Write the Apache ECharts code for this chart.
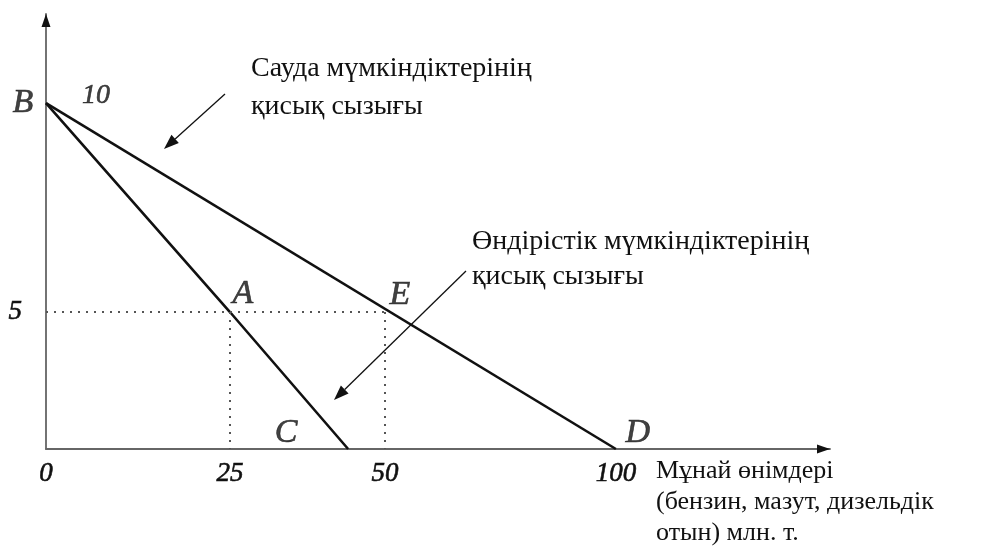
<!DOCTYPE html>
<html>
<head>
<meta charset="utf-8">
<script src="https://cdn.jsdelivr.net/npm/echarts@6/dist/echarts.min.js"></script>
<style>
  html, body { margin: 0; padding: 0; background: #ffffff; }
  #chart { width: 1007px; height: 560px; }
</style>
</head>
<body>
<div id="chart"></div>
<script>
// Key points of the diagram: [oil products, mln t ; other good]
const pointB = [0, 10];
const pointA = [25, 5];
const pointE = [50, 5];
const pointC = [45, 0];
const pointD = [100, 0];

// Tick labels on both axes
const xTickValues = [0, 25, 50, 100];
const yTickValues = [5];

// Captions
const tradeCaption = 'Сауда мүмкіндіктерінің\nқисық сызығы';
const productionCaption = 'Өндірістік мүмкіндіктерінің\nқисық сызығы';
const xAxisCaption = 'Мұнай өнімдері\n(бензин, мазут, дизельдік\nотын) млн. т.';

const SERIF = '"Liberation Serif", "Times New Roman", "DejaVu Serif", serif';
const INK = '#111111';
const AXIS = '#6a6a6a';

const chart = echarts.init(document.getElementById('chart'), null, { renderer: 'canvas' });

// The diagram is a sketch, not drawn to scale: compress parts of the axes
const xBreaks = [
  { start: 30, end: 45, gap: 11.06 },
  { start: 60, end: 90, gap: 11.39 }
];
const yBreaks = [
  { start: 1, end: 4, gap: 1.277 }
];
const X_MAX = 129.1;
const Y_MAX = 12.13;

function arrow(x1, y1, x2, y2, len, half) {
  const dx = x2 - x1, dy = y2 - y1;
  const d = Math.sqrt(dx * dx + dy * dy);
  const ux = dx / d, uy = dy / d;
  const bx = x2 - ux * len, by = y2 - uy * len;
  return [
    { type: 'line', shape: { x1: x1, y1: y1, x2: bx, y2: by }, style: { stroke: INK, lineWidth: 1.3 } },
    { type: 'polygon', shape: { points: [[x2, y2], [bx - uy * half, by + ux * half], [bx + uy * half, by - ux * half]] }, style: { fill: INK } }
  ];
}

// italic serif labels, slightly thickened
const italic = (size) => ({
  fontFamily: SERIF, fontStyle: 'italic', fontSize: size, color: INK,
  textBorderColor: INK, textBorderWidth: 0.6
});

const letterLabel = (dx, dy) => Object.assign(
  { show: true, position: 'inside', offset: [dx, dy] }, italic(34)
);

// continuous axis line (gray) and its black arrow head, laid over the broken value axes
const lineAxis = (position) => ({
  type: 'value', min: 0, max: 1, position: position,
  axisLine: { show: true, onZero: false, lineStyle: { color: AXIS, width: 1.8 } },
  axisTick: { show: false }, axisLabel: { show: false }, splitLine: { show: false }
});
const headAxis = (position) => ({
  type: 'value', min: 0, max: 1, position: position,
  axisLine: {
    show: true, onZero: false,
    lineStyle: { color: INK, width: 0.1 },
    symbol: ['none', 'triangle'], symbolSize: [9, 13], symbolOffset: [0, -6.5]
  },
  axisTick: { show: false }, axisLabel: { show: false }, splitLine: { show: false }
});

const option = {
  animation: false,
  backgroundColor: '#ffffff',
  grid: { left: 46, right: 177, top: 14, bottom: 111 },
  xAxis: [
    {
      type: 'value', min: 0, max: X_MAX,
      breaks: xBreaks,
      breakArea: { show: false },
      splitLine: { show: false },
      axisTick: { show: false },
      axisLine: { show: false },
      axisLabel: Object.assign({ customValues: xTickValues, margin: 11 }, italic(27))
    },
    lineAxis('bottom'),
    headAxis('bottom')
  ],
  yAxis: [
    {
      type: 'value', min: 0, max: Y_MAX,
      breaks: yBreaks,
      breakArea: { show: false },
      splitLine: { show: false },
      axisTick: { show: false },
      axisLine: { show: false },
      axisLabel: Object.assign({ customValues: yTickValues, margin: 24 }, italic(27))
    },
    lineAxis('left'),
    headAxis('left')
  ],
  series: [
    {
      // trade possibilities line B–D
      type: 'line', data: [pointB, pointD], symbol: 'none',
      lineStyle: { color: INK, width: 2.6 }
    },
    {
      // production possibilities line B–A–C
      type: 'line', data: [pointB, pointA, pointC], symbol: 'none',
      lineStyle: { color: INK, width: 2.6 }
    },
    {
      // guide lines to A and E
      type: 'line', data: [], symbol: 'none',
      markLine: {
        silent: true, symbol: ['none', 'none'], label: { show: false },
        lineStyle: { color: '#555', width: 2, type: [2, 6] },
        data: [
          [{ coord: [0, pointA[1]] }, { coord: pointE }],
          [{ coord: pointA }, { coord: [pointA[0], 0] }],
          [{ coord: pointE }, { coord: [pointE[0], 0] }]
        ]
      }
    },
    {
      // point letters
      type: 'scatter', symbolSize: 0, silent: true,
      data: [
        { name: 'B', value: pointB, label: letterLabel(-23, 0) },
        { name: 'A', value: pointA, label: letterLabel(13, -18) },
        { name: 'E', value: pointE, label: letterLabel(15, -17) },
        { name: 'C', value: pointC, label: letterLabel(-62, -16) },
        { name: 'D', value: pointD, label: letterLabel(22, -16) }
      ],
      label: { show: true, formatter: p => p.name }
    },
    {
      // value of B on the vertical axis
      type: 'scatter', symbolSize: 0, silent: true,
      data: [pointB],
      label: Object.assign({
        show: true, position: 'inside', offset: [50, -7],
        formatter: p => String(p.value[1])
      }, italic(28))
    }
  ],
  graphic: [
    {
      type: 'text', left: 251, top: 50,
      style: { text: tradeCaption, fontFamily: SERIF, fontSize: 28, lineHeight: 38, fill: INK }
    },
    {
      type: 'text', left: 472, top: 224,
      style: { text: productionCaption, fontFamily: SERIF, fontSize: 28, lineHeight: 35, fill: INK }
    },
    {
      type: 'text', left: 656, top: 456,
      style: { text: xAxisCaption, fontFamily: SERIF, fontSize: 26, lineHeight: 31, fill: INK }
    },
    ...arrow(225, 94, 164, 149, 15, 5.5),
    ...arrow(466, 271, 334, 400, 15, 5.5)
  ]
};

chart.setOption(option);
</script>
</body>
</html>
